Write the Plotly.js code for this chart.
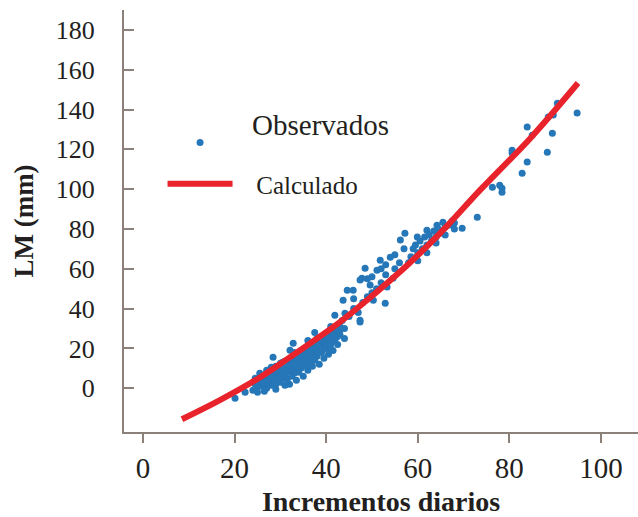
<!DOCTYPE html>
<html>
<head>
<meta charset="utf-8">
<script src="https://cdn.plot.ly/plotly-3.0.1.min.js"></script>
<style>html,body{margin:0;padding:0;background:#fff;}#chart{width:638px;height:517px;}</style>
</head>
<body>
<div id="chart"></div>
<script>
// Calculated curve
const calcX = [8.5, 16.8, 25.6, 32.1, 43.0, 48.9, 57.7, 64.9, 73.6, 84.6, 95.0];
const calcY = [-15.6, -6.0, 5.5, 15.6, 33.2, 44.2, 61.8, 77.9, 99.5, 125.6, 153.3];

const obsX = [
  24.5, 25, 25.5, 26, 26, 26.5, 27, 27, 27.5, 28, 28, 28.5, 24, 25, 26.5,
  29, 29, 29.5, 30, 30, 30.5, 31, 31, 31.5, 32, 32, 32, 29.5, 30.5, 28.5,
  32.5, 33, 33, 33.5, 34, 34, 34, 34.5, 35, 35, 35.5, 36, 36, 33, 36,
  36.5, 37, 37, 37.5, 38, 38, 38.5, 39, 39, 39.5, 40, 40, 40.5, 37, 38,
  41, 41, 41.5, 42, 42, 42.5, 43, 43, 44, 44, 43.5, 41,
  27.5, 29, 31, 33, 35, 37, 39, 37.5, 36,
  25.5, 26.5, 27, 27.5, 28, 28.5, 29, 29.5, 30, 30.5, 31, 31.5, 32, 32.5, 33, 33.5, 34, 34.5,
  35, 35.5, 36, 36.5, 37, 37.5, 38, 38.5, 39, 39.5, 40, 40.5, 41, 41.5, 42, 42.5, 43,
  26, 27, 28, 29, 30, 31, 32, 33, 34, 35, 36, 37, 38, 39, 40, 41,
  20.1, 22.3, 24.5, 28.4, 32.1, 32.8, 36.5, 41.9, 44.1, 43, 47.4, 50.3, 52.9, 47.4,
  44.6, 47.8, 48.5, 51.8, 54, 56.2, 57.2, 59.9, 62, 64.2, 65.5, 53.3, 54.6, 43.7, 45.9, 47.4, 49.6, 51.1,
  45, 46, 47, 48, 49, 50, 51, 52, 53, 55, 56, 46, 49, 50, 52, 53, 55, 57,
  58.5, 59, 59.5, 60, 60.5, 61, 61.5, 62, 62.5, 63, 63.5, 64, 64.5, 65, 66, 67, 67.5, 68, 58, 60, 62, 64, 66, 68,
  73, 69.7, 76.3, 78.4, 78.4, 77.9, 82.8, 83.9, 80.6, 80.6, 88.3, 89.4, 85, 83.9, 88.5, 89.6, 90.5, 94.8
];
const obsY = [
  2, 0.5, 3, 1, 4.5, 2.5, 0, 5, 3.5, 1.5, 6, 4, -1, -2, -1.5,
  2, 7, 5, 9, 3, 6.5, 1.5, 10, 4.5, 8, 12, 2, 11, 13, 9,
  6, 10, 14, 4, 8, 12, 16, 10, 14, 6, 17, 12, 9, 18, 19,
  15, 11, 18, 14, 20, 16, 12, 18, 22, 15, 20, 24, 17, 21, 25,
  22, 27, 19, 25, 29, 22, 27, 31, 25, 30, 34, 31,
  7.5, -0.5, 7, 7.5, 11, 15, 26, 28, 24,
  7.5, 2.5, 9, 4, 10.5, 5, 11, 6.5, 12.5, 8, 13.5, 9, 14.5, 10.5, 16, 11.5, 17.5, 13,
  19, 14, 20.5, 17, 22.5, 18, 23, 19.5, 24.5, 21, 26, 22, 25, 24, 27, 26, 29,
  6, 3, 8, 4.5, 6, 5, 10, 12, 14, 17, 15, 16, 18, 20, 22.5, 19.5,
  -5, -2, 5, 15.6, 19.1, 22.6, 12.6, 36.7, 37.7, 30.2, 33.2, 44.2, 42.7, 34.2,
  49.2, 55.3, 60.3, 64.3, 65.8, 74.4, 77.9, 75.9, 79.4, 81.9, 83.4, 50.8, 55.3, 44.2, 49.2, 54.3, 51.8, 59.3,
  36, 40, 38, 43, 46, 48, 50, 53, 57, 60, 63, 45, 55, 56, 60, 62, 67, 70,
  66, 70, 72, 68, 74, 70, 76, 72, 77, 74, 79, 76, 80, 78, 81, 82, 84, 83, 63, 64, 68, 73, 77, 80,
  85.9, 80.4, 101, 100.5, 98.5, 102, 108, 113.6, 119.6, 118.1, 118.6, 128.1, 127.1, 131.2, 136.2, 137.2, 143.2, 138.2
];

const xTicks = [0, 20, 40, 60, 80, 100];
const yTicks = [0, 20, 40, 60, 80, 100, 120, 140, 160, 180];

const FONT = 'Liberation Serif, Times New Roman, serif';
const AXC = '#8c817a';
const NB = '\u00a0';

const traces = [
  {
    x: obsX, y: obsY, type: 'scatter', mode: 'markers',
    name: NB + NB + 'Observados<br>' + NB,
    marker: {color: '#2677b8', size: 7},
    legend: 'legend'
  },
  {
    x: calcX, y: calcY, type: 'scatter', mode: 'lines',
    name: NB + NB + NB + 'Calculado',
    line: {color: '#e8232c', width: 6, shape: 'spline'},
    legend: 'legend2'
  }
];

const layout = {
  width: 638, height: 517,
  margin: {l: 124, r: 0, t: 10, b: 85},
  paper_bgcolor: '#ffffff', plot_bgcolor: '#ffffff',
  font: {family: FONT, color: '#231f20'},
  showlegend: true,
  legend: {
    x: 0.075, y: 0.7905, xanchor: 'left', yanchor: 'top',
    bgcolor: 'rgba(0,0,0,0)', borderwidth: 0,
    font: {family: FONT, size: 29, color: '#231f20'},
    itemwidth: 65, valign: 'middle'
  },
  legend2: {
    x: 0.075, y: 0.642, xanchor: 'left', yanchor: 'top',
    bgcolor: 'rgba(0,0,0,0)', borderwidth: 0,
    font: {family: FONT, size: 25, color: '#231f20'},
    itemwidth: 65, valign: 'middle'
  },
  xaxis: {
    range: [-4.15, 108.1],
    tickvals: xTicks, ticktext: xTicks.map(String),
    showgrid: false, zeroline: false,
    showline: true, linecolor: AXC, linewidth: 2,
    ticks: 'outside', ticklen: 9, tickwidth: 2, tickcolor: AXC,
    ticklabelstandoff: 0,
    tickfont: {family: FONT, size: 29, color: '#231f20'},
    title: {text: '<b>Incrementos diarios</b>', font: {family: FONT, size: 28, color: '#231f20'}, standoff: 16}
  },
  yaxis: {
    range: [-22, 190],
    tickvals: yTicks, ticktext: yTicks.map(String),
    showgrid: false, zeroline: false,
    showline: true, linecolor: AXC, linewidth: 2,
    ticks: 'inside', ticklen: 10, tickwidth: 2, tickcolor: AXC,
    ticklabelstandoff: 22,
    tickfont: {family: FONT, size: 26, color: '#231f20'},
    title: {text: '<b>LM (mm)</b>', font: {family: FONT, size: 27, color: '#231f20'}, standoff: 14}
  }
};

Plotly.newPlot('chart', traces, layout, {displayModeBar: false, staticPlot: true});
</script>
</body>
</html>
